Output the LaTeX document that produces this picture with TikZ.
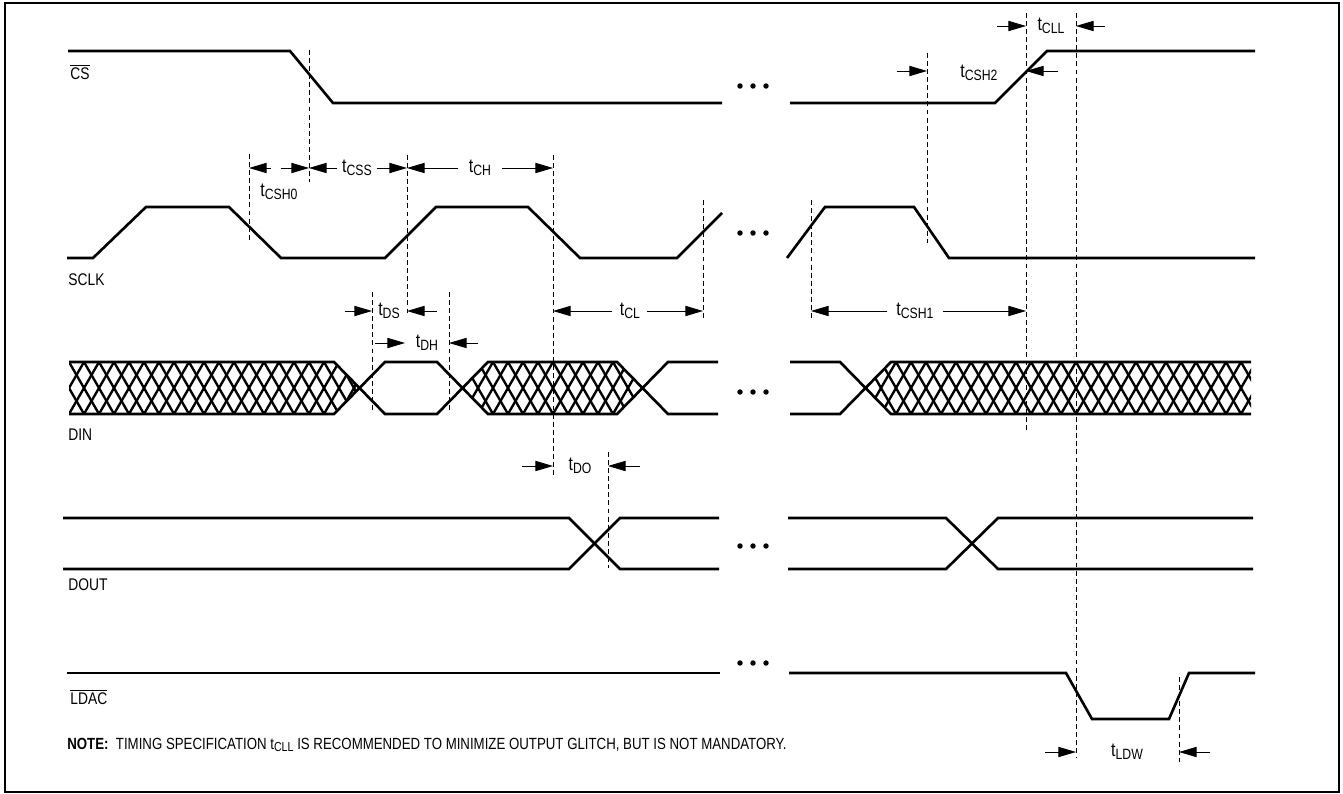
\documentclass[tikz,border=0pt]{standalone}
\usepackage{fontspec}
\setmainfont{Liberation Sans}[FakeStretch=0.82]
\usetikzlibrary{arrows.meta}

\tikzset{
  wave/.style={line width=1.5pt},
  hatch/.style={line width=1.35pt},
  guide/.style={line width=0.45pt, dash pattern=on 2.8pt off 1.8pt},
  dim/.style={line width=0.5pt, -{Triangle[length=10pt,width=5.8pt]}},
  siglabel/.style={anchor=west, inner sep=0pt, font=\fontsize{9.6}{11}\selectfont},
  tlabel/.style={inner sep=0pt, font=\fontsize{11}{13}\selectfont}
}
\newcommand{\tsub}[1]{t\raisebox{-1.7pt}{\fontsize{8.5}{10}\selectfont #1}}

\begin{document}
\begin{tikzpicture}[x=0.02cm, y=-0.02cm]
  \useasboundingbox (0,0) rectangle (1343,794);
  \draw[line width=1.2pt] (5,3) rectangle (1339,792);

  % CS
  \draw[wave] (68,51) -- (290,51) -- (333,103) -- (722,103);
  \draw[wave] (790,103) -- (995,103) -- (1047,51) -- (1255,51);
  \node[siglabel] (cs) at (70,72) {$\overline{\mbox{CS}}$};

  % SCLK
  \draw[wave] (67,258) -- (93,258) -- (146,207) -- (229,207) -- (281,258)
    -- (385,258) -- (436,207) -- (528,207) -- (580,258) -- (677,258) -- (722,213);
  \draw[wave] (787,258) -- (825,207) -- (914,207) -- (949,258) -- (1255,258);
  \node[siglabel] (sclk) at (68,280) {SCLK};

  % DIN
  \begin{scope}
    \clip (69,362) -- (334,362) -- (360,388) -- (334,414) -- (69,414) -- cycle;
    \foreach \k in {0,...,20}
      \draw[hatch] (39+15*\k,414) -- ++(30,-52) (39+15*\k,362) -- ++(30,52);
  \end{scope}
  \begin{scope}
    \clip (463,388) -- (488,362) -- (617,362) -- (642,388) -- (617,414) -- (488,414) -- cycle;
    \foreach \k in {0,...,13}
      \draw[hatch] (433+15*\k,414) -- ++(30,-52) (433+15*\k,362) -- ++(30,52);
  \end{scope}
  \begin{scope}
    \clip (866,388) -- (891,362) -- (1251,362) -- (1251,414) -- (891,414) -- cycle;
    \foreach \k in {0,...,27}
      \draw[hatch] (836+15*\k,414) -- ++(30,-52) (836+15*\k,362) -- ++(30,52);
  \end{scope}
  \draw[wave] (69,362) -- (334,362) -- (385,414) -- (437,414) -- (488,362)
    -- (617,362) -- (668,414) -- (718,414);
  \draw[wave] (69,414) -- (334,414) -- (385,362) -- (437,362) -- (488,414)
    -- (617,414) -- (668,362) -- (718,362);
  \draw[wave] (790,362) -- (840,362) -- (891,414) -- (1251,414);
  \draw[wave] (790,414) -- (840,414) -- (891,362) -- (1251,362);
  \node[siglabel] (din) at (68,435) {DIN};

  % DOUT
  \draw[wave] (63,518) -- (569,518) -- (620,569) -- (719,569);
  \draw[wave] (63,569) -- (569,569) -- (620,518) -- (719,518);
  \draw[wave] (788,518) -- (946,518) -- (998,569) -- (1253,569);
  \draw[wave] (788,569) -- (946,569) -- (998,518) -- (1253,518);
  \node[siglabel] (dout) at (68,585) {DOUT};

  % LDAC
  \draw[wave] (67,673) -- (720,673);
  \draw[wave] (789,673) -- (1066,673) -- (1092,719) -- (1169,719) -- (1189,673) -- (1255,673);
  \node[siglabel] (ldac) at (70,697) {$\overline{\mbox{LDAC}}$};

  % gaps
  \foreach \y in {86,233,392,546,663}
    \foreach \x in {740,753,766}
      \fill (\x,\y) circle (1.55pt);

  % guide lines
  \draw[guide] (249,154) -- (249,240);
  \draw[guide] (309,50) -- (309,182);
  \draw[guide] (407,155) -- (407,315);
  \draw[guide] (553,155) -- (553,478);
  \draw[guide] (372,292) -- (372,413);
  \draw[guide] (449,292) -- (449,413);
  \draw[guide] (703,200) -- (703,320);
  \draw[guide] (811,200) -- (811,320);
  \draw[guide] (927,53) -- (927,243);
  \draw[guide] (1026,13) -- (1026,433);
  \draw[guide] (1076,13) -- (1076,758);
  \draw[guide] (608,452) -- (608,568);
  \draw[guide] (1179,677) -- (1179,762);

  % timing parameters
  \draw[dim] (271,168) -- (249,168);
  \draw[dim] (281,168) -- (309,168);
  \node[tlabel] (tcsh0) at (279,192) {\tsub{CSH0}};
  \draw[dim] (337,168) -- (309,168);
  \draw[dim] (377,168) -- (407,168);
  \node[tlabel] (tcss) at (357,168) {\tsub{CSS}};
  \draw[dim] (458,168) -- (407,168);
  \draw[dim] (502,168) -- (553,168);
  \node[tlabel] (tch) at (480,168) {\tsub{CH}};
  \draw[dim] (345,311) -- (372,311);
  \draw[dim] (437,311) -- (407,311);
  \node[tlabel] (tds) at (389,311) {\tsub{DS}};
  \draw[dim] (375,343) -- (405,343);
  \draw[dim] (478,343) -- (449,343);
  \node[tlabel] (tdh) at (427,343) {\tsub{DH}};
  \draw[dim] (612,311) -- (553,311);
  \draw[dim] (647,311) -- (703,311);
  \node[tlabel] (tcl) at (630,311) {\tsub{CL}};
  \draw[dim] (887,311) -- (811,311);
  \draw[dim] (943,311) -- (1026,311);
  \node[tlabel] (tcsh1) at (915,311) {\tsub{CSH1}};
  \draw[dim] (522,466) -- (553,466);
  \draw[dim] (640,466) -- (608,466);
  \node[tlabel] (tdo) at (580,466) {\tsub{DO}};
  \draw[dim] (997,26) -- (1026,26);
  \draw[dim] (1105,26) -- (1076,26);
  \node[tlabel] (tcll) at (1051,26) {\tsub{CLL}};
  \draw[dim] (897,71) -- (927,71);
  \draw[dim] (1058,71) -- (1026,71);
  \node[tlabel] (tcsh2) at (979,73) {\tsub{CSH2}};
  \draw[dim] (1045,752) -- (1076,752);
  \draw[dim] (1210,752) -- (1179,752);
  \node[tlabel] (tldw) at (1127,752) {\tsub{LDW}};

  \node[anchor=west, inner sep=0pt, font=\fontsize{9.2}{11}\selectfont] (note) at (67,745)
    {\textbf{NOTE:}\ \ TIMING SPECIFICATION t\raisebox{-1.3pt}{\fontsize{7.4}{8}\selectfont CLL} IS RECOMMENDED TO MINIMIZE OUTPUT GLITCH, BUT IS NOT MANDATORY.};
\end{tikzpicture}
\end{document}
